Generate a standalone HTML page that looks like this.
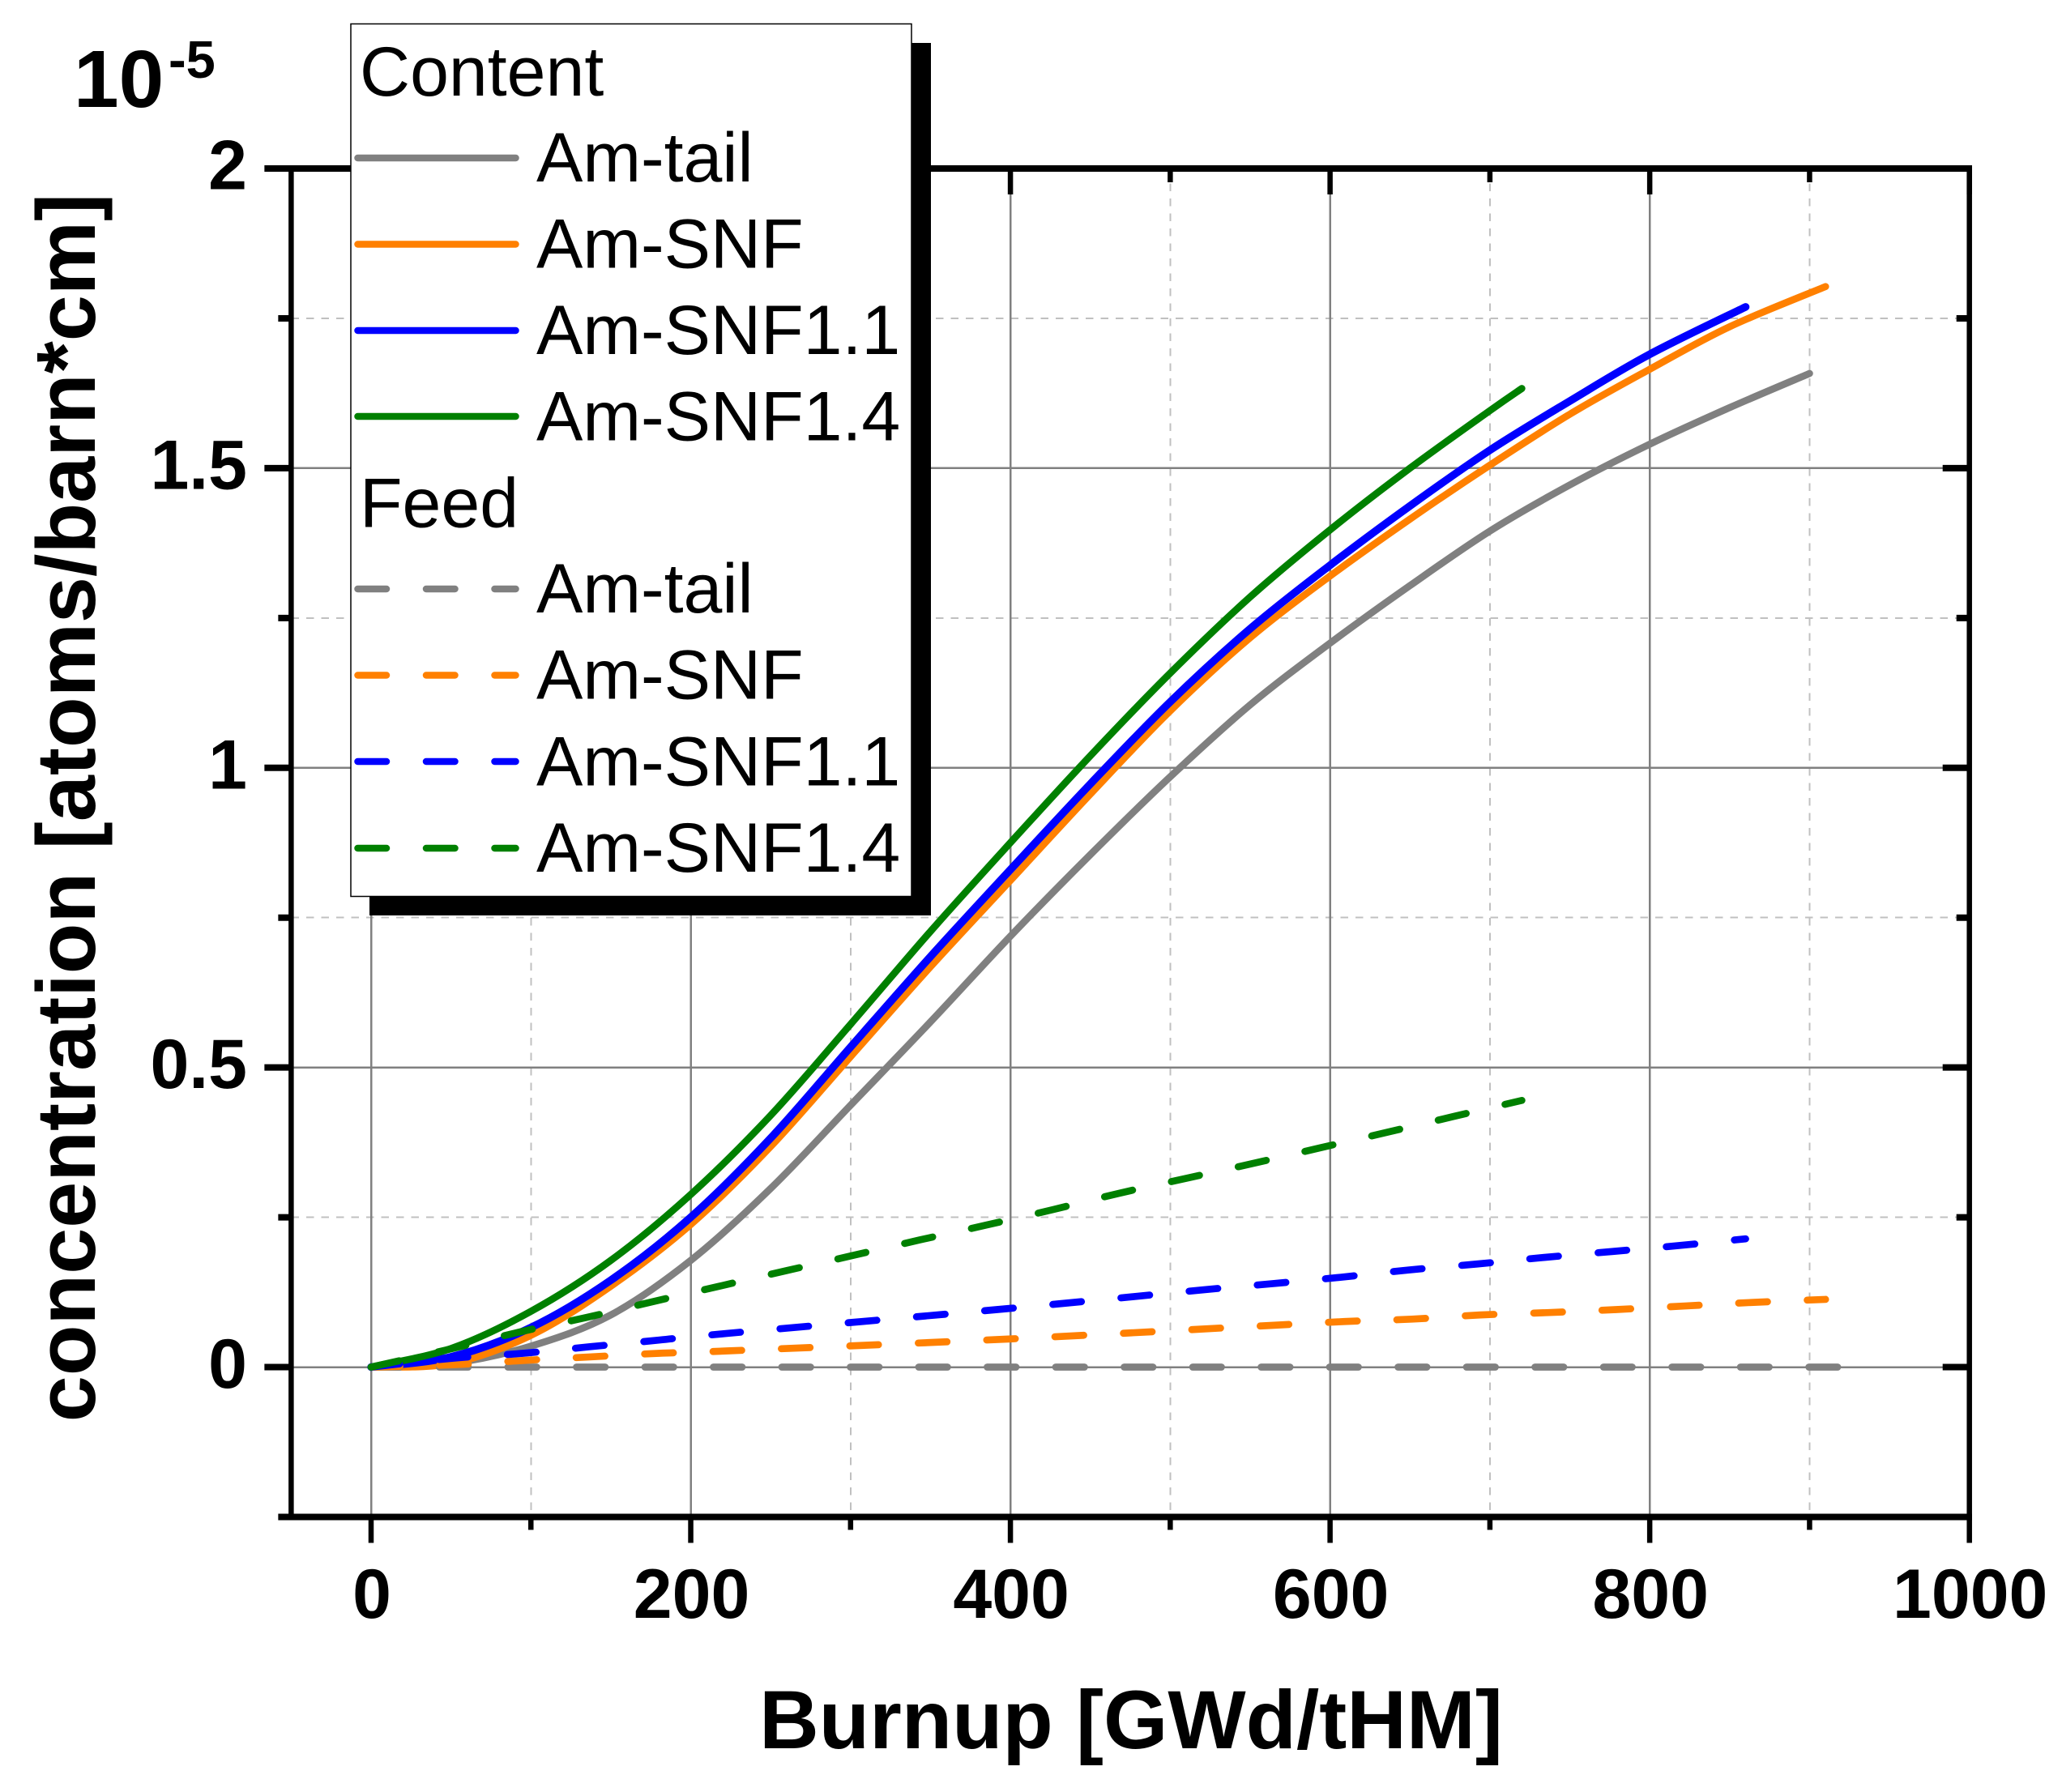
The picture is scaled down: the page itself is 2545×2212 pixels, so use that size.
<!DOCTYPE html>
<html lang="en">
<head>
<meta charset="utf-8">
<title>Am concentration vs burnup</title>
<style>
html,body{margin:0;padding:0;background:#fff;}
svg{display:block;}
text{font-family:"Liberation Sans",Arial,sans-serif;fill:#000;}
.b{font-weight:bold;}
</style>
</head>
<body>
<svg id="chart" xmlns="http://www.w3.org/2000/svg" width="2545" height="2212" viewBox="0 0 2545 2212">
<rect x="0" y="0" width="2545" height="2212" fill="#fff"/>
<g id="grid" shape-rendering="crispEdges"></g>
<g id="series"></g>
<g id="axes"></g>
<text class="b" transform="translate(117,997) rotate(-90)" text-anchor="middle" font-size="102.6">concentration [atoms/barn*cm]</text>
<text class="b" x="1396" y="2158" text-anchor="middle" font-size="102">Burnup [GWd/tHM]</text>
<g>
<text class="b" x="91" y="132" font-size="100">10</text>
<text class="b" x="208" y="96" font-size="65">-5</text>
</g>
<g>
<rect x="456" y="53" width="693" height="1077" fill="#000"/>
<rect x="433" y="29.5" width="692" height="1077" fill="#fff" stroke="#000" stroke-width="1.5"/>
<text x="444" y="118" font-size="86">Content</text>
<line x1="441.5" x2="636.5" y1="195" y2="195" stroke="#808080" stroke-width="8.5" stroke-linecap="round"/>
<text x="662" y="224" font-size="86">Am-tail</text>
<line x1="441.5" x2="636.5" y1="301.5" y2="301.5" stroke="#ff8000" stroke-width="8.5" stroke-linecap="round"/>
<text x="662" y="330.5" font-size="86">Am-SNF</text>
<line x1="441.5" x2="636.5" y1="408" y2="408" stroke="#0000ff" stroke-width="8.5" stroke-linecap="round"/>
<text x="662" y="437" font-size="86">Am-SNF1.1</text>
<line x1="441.5" x2="636.5" y1="514" y2="514" stroke="#008000" stroke-width="8.5" stroke-linecap="round"/>
<text x="662" y="543.5" font-size="86">Am-SNF1.4</text>
<text x="444" y="650.5" font-size="86">Feed</text>
<line x1="441.5" x2="636.5" y1="727" y2="727" stroke="#808080" stroke-width="8.5" stroke-linecap="round" stroke-dasharray="35.5 49"/>
<text x="662" y="756" font-size="86">Am-tail</text>
<line x1="441.5" x2="636.5" y1="833.5" y2="833.5" stroke="#ff8000" stroke-width="8.5" stroke-linecap="round" stroke-dasharray="35.5 49"/>
<text x="662" y="862.5" font-size="86">Am-SNF</text>
<line x1="441.5" x2="636.5" y1="940" y2="940" stroke="#0000ff" stroke-width="8.5" stroke-linecap="round" stroke-dasharray="35.5 49"/>
<text x="662" y="969.5" font-size="86">Am-SNF1.1</text>
<line x1="441.5" x2="636.5" y1="1047" y2="1047" stroke="#008000" stroke-width="8.5" stroke-linecap="round" stroke-dasharray="35.5 49"/>
<text x="662" y="1076" font-size="86">Am-SNF1.4</text>
</g>
</svg>
<script>
// Tick values and labels
const xMajorTicks = [0, 200, 400, 600, 800, 1000];
const xMinorTicks = [100, 300, 500, 700, 900];
const yMajorTicks = [0, 0.5, 1, 1.5, 2];
const yMinorTicks = [-0.25, 0.25, 0.75, 1.25, 1.75];
const xTickLabels = ["0", "200", "400", "600", "800", "1000"];
const yTickLabels = ["0", "0.5", "1", "1.5", "2"];

// Content series (burnup, concentration in 1e-5 atoms/barn*cm)
const tailX = [0, 50, 100, 150, 200, 250, 300, 350, 400, 450, 500, 550, 600, 650, 700, 750, 800, 850, 900];
const tailY = [0, 0.006, 0.035, 0.087, 0.178, 0.298, 0.437, 0.576, 0.719, 0.855, 0.985, 1.105, 1.208, 1.304, 1.395, 1.472, 1.54, 1.601, 1.658];
const snfX = [0, 50, 100, 150, 200, 250, 300, 350, 400, 450, 500, 550, 600, 650, 700, 750, 800, 850, 910];
const snfY = [0, 0.006, 0.053, 0.135, 0.238, 0.368, 0.518, 0.668, 0.812, 0.956, 1.095, 1.217, 1.32, 1.415, 1.505, 1.59, 1.665, 1.736, 1.803];
const snf11X = [0, 50, 100, 150, 200, 250, 300, 350, 400, 450, 500, 550, 600, 650, 700, 750, 800, 860];
const snf11Y = [0, 0.017, 0.066, 0.145, 0.25, 0.382, 0.534, 0.685, 0.83, 0.973, 1.11, 1.232, 1.338, 1.437, 1.53, 1.612, 1.69, 1.769];
const snf14X = [0, 50, 100, 150, 200, 250, 300, 350, 400, 450, 500, 550, 600, 650, 700, 720];
const snf14Y = [0, 0.031, 0.093, 0.178, 0.288, 0.42, 0.572, 0.727, 0.875, 1.02, 1.158, 1.285, 1.397, 1.5, 1.596, 1.633];

// Feed series
const feedTailX = [0, 918];
const feedTailY = [0, 0];
const feedSnfX = [0, 52, 95, 137, 180, 223, 400, 566, 609, 651, 694, 737, 779, 822, 865, 910];
const feedSnfY = [0, 0.004, 0.011, 0.017, 0.023, 0.027, 0.047, 0.07, 0.076, 0.08, 0.087, 0.091, 0.096, 0.102, 0.108, 0.113];
const feedSnf11X = [0, 52, 95, 137, 180, 222, 400, 521, 563, 607, 649, 692, 734, 777, 819, 860];
const feedSnf11Y = [0, 0.015, 0.023, 0.034, 0.045, 0.056, 0.098, 0.129, 0.139, 0.15, 0.162, 0.172, 0.183, 0.193, 0.203, 0.214];
const feedSnf14X = [0, 51, 92, 135, 176, 218, 260, 301, 343, 385, 427, 468, 510, 552, 594, 636, 677, 720];
const feedSnf14Y = [0, 0.031, 0.058, 0.083, 0.109, 0.135, 0.161, 0.186, 0.212, 0.237, 0.263, 0.29, 0.315, 0.34, 0.366, 0.392, 0.418, 0.445];

// Axis functions
const X0 = 458, X_PER = 1.9727;
const Y0 = 1687.5, Y_PER = 739.75;
function sx(v) { return X0 + v * X_PER; }
function sy(v) { return Y0 - v * Y_PER; }
const LEFT = sx(-50), RIGHT = sx(1000), TOP = sy(2), BOTTOM = sy(-0.25);

const NS = "http://www.w3.org/2000/svg";
const gridG = document.getElementById("grid");
const seriesG = document.getElementById("series");
const axesG = document.getElementById("axes");

function addLine(parent, x1, y1, x2, y2, color, width, dash) {
  const el = document.createElementNS(NS, "line");
  el.setAttribute("x1", x1);
  el.setAttribute("y1", y1);
  el.setAttribute("x2", x2);
  el.setAttribute("y2", y2);
  el.setAttribute("stroke", color);
  el.setAttribute("stroke-width", width);
  if (dash) el.setAttribute("stroke-dasharray", dash);
  parent.appendChild(el);
  return el;
}

function smoothPath(xs, ys) {
  const px = xs.map(sx);
  const py = ys.map(sy);
  let d = "M" + px[0].toFixed(2) + " " + py[0].toFixed(2);
  for (let i = 0; i < px.length - 1; i++) {
    const a = Math.max(i - 1, 0), b = Math.min(i + 2, px.length - 1);
    const c1x = px[i] + (px[i + 1] - px[a]) / 6;
    const c1y = py[i] + (py[i + 1] - py[a]) / 6;
    const c2x = px[i + 1] - (px[b] - px[i]) / 6;
    const c2y = py[i + 1] - (py[b] - py[i]) / 6;
    d += "C" + c1x.toFixed(2) + " " + c1y.toFixed(2) + " " + c2x.toFixed(2) + " " + c2y.toFixed(2) + " " + px[i + 1].toFixed(2) + " " + py[i + 1].toFixed(2);
  }
  return d;
}

function addSeries(name, xs, ys, color, width, dashed) {
  const el = document.createElementNS(NS, "path");
  
  
  el.setAttribute("d", smoothPath(xs, ys));
  el.setAttribute("fill", "none");
  el.setAttribute("stroke", color);
  el.setAttribute("stroke-width", width);
  el.setAttribute("stroke-linecap", "round");
  el.setAttribute("stroke-linejoin", "round");
  if (dashed) el.setAttribute("stroke-dasharray", "35.5 49");
  seriesG.appendChild(el);
}

function addLabel(x, y, str, anchor) {
  const el = document.createElementNS(NS, "text");
  
  
  el.setAttribute("class", "b");
  el.setAttribute("x", x);
  el.setAttribute("y", y);
  el.setAttribute("font-size", "86");
  el.setAttribute("text-anchor", anchor);
  el.textContent = str;
  axesG.appendChild(el);
}

// Grid
xMinorTicks.forEach(function (v) {
  const el = addLine(gridG, sx(v), TOP, sx(v), BOTTOM, "#c0c0c0", 2, "9.5 9");
  
  
});
yMinorTicks.slice(1).forEach(function (v) {
  const el = addLine(gridG, LEFT, sy(v), RIGHT, sy(v), "#c0c0c0", 2, "9.5 9");
  
  
});
xMajorTicks.slice(0, 5).forEach(function (v) {
  const el = addLine(gridG, sx(v), TOP, sx(v), BOTTOM, "#808080", 2.5);
  
  
});
yMajorTicks.slice(0, 4).forEach(function (v) {
  const el = addLine(gridG, LEFT, sy(v), RIGHT, sy(v), "#808080", 2.5);
  
  
});

// Series
addSeries("series-content-am-tail", tailX, tailY, "#808080", 8.7, false);
addSeries("series-content-am-snf", snfX, snfY, "#ff8000", 8.7, false);
addSeries("series-content-am-snf-1-1", snf11X, snf11Y, "#0000ff", 9.5, false);
addSeries("series-content-am-snf-1-4", snf14X, snf14Y, "#008000", 8.7, false);
addSeries("series-feed-am-tail", feedTailX, feedTailY, "#808080", 8.7, true);
addSeries("series-feed-am-snf", feedSnfX, feedSnfY, "#ff8000", 8.7, true);
addSeries("series-feed-am-snf-1-1", feedSnf11X, feedSnf11Y, "#0000ff", 8.7, true);
addSeries("series-feed-am-snf-1-4", feedSnf14X, feedSnf14Y, "#008000", 8.7, true);

// Axes frame and ticks
const VW = 6.5, HW = 8;
const frameLeft = addLine(axesG, LEFT, TOP - HW / 2, LEFT, BOTTOM + HW / 2, "#000", VW);


const frameRight = addLine(axesG, RIGHT, TOP - HW / 2, RIGHT, BOTTOM + HW / 2, "#000", VW);


const frameTop = addLine(axesG, LEFT - VW / 2, TOP, RIGHT + VW / 2, TOP, "#000", HW);


const frameBottom = addLine(axesG, LEFT - VW / 2, BOTTOM, RIGHT + VW / 2, BOTTOM, "#000", HW);



xMajorTicks.forEach(function (v, i) {
  const b = addLine(axesG, sx(v), BOTTOM, sx(v), BOTTOM + 32, "#000", VW);
  
  
  const t = addLine(axesG, sx(v), TOP, sx(v), TOP + 32, "#000", VW);
  
  
  addLabel(sx(v) + 1, 1997, xTickLabels[i], "middle");
});
xMinorTicks.forEach(function (v) {
  const b = addLine(axesG, sx(v), BOTTOM, sx(v), BOTTOM + 16, "#000", VW);
  
  
  const t = addLine(axesG, sx(v), TOP, sx(v), TOP + 17, "#000", VW);
  
  
});
yMajorTicks.forEach(function (v, i) {
  const l = addLine(axesG, LEFT - 33, sy(v), LEFT, sy(v), "#000", HW);
  
  
  const r = addLine(axesG, RIGHT - 33, sy(v), RIGHT, sy(v), "#000", HW);
  
  
  addLabel(305, sy(v) + 25.5, yTickLabels[i], "end");
});
yMinorTicks.forEach(function (v) {
  const l = addLine(axesG, LEFT - 16, sy(v), LEFT, sy(v), "#000", HW);
  
  
  const r = addLine(axesG, RIGHT - 16, sy(v), RIGHT, sy(v), "#000", HW);
  
  
});
</script>
</body>
</html>
